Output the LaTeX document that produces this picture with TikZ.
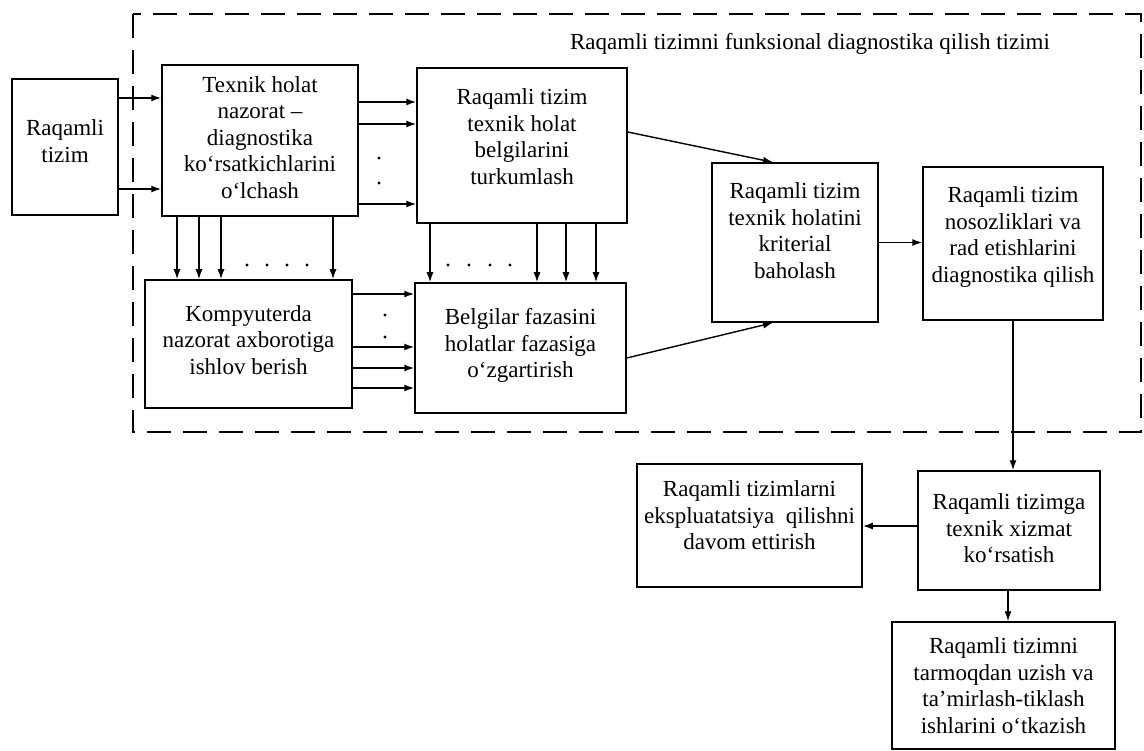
\documentclass[tikz,border=0pt]{standalone}
\usepackage{fontspec}
\setmainfont{Liberation Serif}
\usetikzlibrary{arrows.meta}
\newcommand\liftup[1]{\\[\dimexpr 2\dimexpr #1\relax-26.5pt\relax]\rule{0pt}{0pt}}
\tikzset{
  box/.style={draw, line width=1.5pt, align=center, inner sep=2pt,
    font=\fontsize{23}{26.5}\selectfont},
  arr/.style={line width=1.4pt, -{Latex[length=10pt,width=7pt]}},
  frame/.style={line width=1.5pt, dash pattern=on 24pt off 12pt},
  dot/.style={circle, fill, inner sep=0pt, minimum size=3.2pt},
  title/.style={font=\fontsize{23}{26}\selectfont, inner sep=0pt}
}
\begin{document}
\begin{tikzpicture}[x=1pt,y=-1pt]
\useasboundingbox (0,0) rectangle (1144,751);
% dashed frame
\draw[frame] (133,14) rectangle (1141,432);
\node[title] (ttl) at (810,44) {Raqamli tizimni funksional diagnostika qilish tizimi};
% boxes
\node[box, minimum width=106pt, minimum height=136pt] (sys) at (65,147) {Raqamli\\tizim\liftup{6pt}};
\node[box, minimum width=196pt, minimum height=151pt] (meas) at (260,140.5) {Texnik holat\\nazorat –\\diagnostika\\ko‘rsatkichlarini\\o‘lchash\liftup{3pt}};
\node[box, minimum width=207pt, minimum height=128pt] (comp) at (248.5,344) {Kompyuterda\\nazorat axborotiga\\ishlov berish\liftup{4pt}};
\node[box, minimum width=210pt, minimum height=155pt] (cls) at (522,145.5) {Raqamli tizim\\texnik holat\\belgilarini\\turkumlash\liftup{9pt}};
\node[box, minimum width=211pt, minimum height=130pt] (phase) at (520.5,348) {Belgilar fazasini\\holatlar fazasiga\\o‘zgartirish\liftup{5pt}};
\node[box, minimum width=166pt, minimum height=159pt] (crit) at (795,242.5) {Raqamli tizim\\texnik holatini\\kriterial\\baholash\liftup{12pt}};
\node[box, minimum width=180pt, minimum height=153pt] (diag) at (1013,243.5) {Raqamli tizim\\nosozliklari va\\rad etishlarini\\diagnostika qilish\liftup{9pt}};
\node[box, minimum width=182pt, minimum height=119pt] (serv) at (1009,530.5) {Raqamli tizimga\\texnik xizmat\\ko‘rsatish\liftup{2pt}};
\node[box, minimum width=225pt, minimum height=123pt] (cont) at (749.5,525.5) {Raqamli tizimlarni\\ekspluatatsiya\ \ qilishni\\davom ettirish\liftup{10pt}};
\node[box, minimum width=223pt, minimum height=127pt] (rep) at (1003.5,685.5) {Raqamli tizimni\\tarmoqdan uzish va\\ta’mirlash-tiklash\\ishlarini o‘tkazish};
% sys -> meas
\draw[arr] (sys.east |- 0,98) -- (meas.west |- 0,98);
\draw[arr] (sys.east |- 0,189) -- (meas.west |- 0,189);
% meas -> cls
\draw[arr] (meas.east |- 0,102) -- (cls.west |- 0,102);
\draw[arr] (meas.east |- 0,124) -- (cls.west |- 0,124);
\draw[arr] (meas.east |- 0,204) -- (cls.west |- 0,204);
\node[dot] (d1) at (379,158) {};
\node[dot] (d2) at (379,183) {};
% meas -> comp
\draw[arr] (meas.south -| 177,0) -- (comp.north -| 177,0);
\draw[arr] (meas.south -| 199,0) -- (comp.north -| 199,0);
\draw[arr] (meas.south -| 221,0) -- (comp.north -| 221,0);
\draw[arr] (meas.south -| 333,0) -- (comp.north -| 333,0);
\foreach \x [count=\i] in {247,267,287,307} \node[dot] (e\i) at (\x,265) {};
% cls -> phase
\draw[arr] (cls.south -| 430,0) -- (phase.north -| 430,0);
\draw[arr] (cls.south -| 537,0) -- (phase.north -| 537,0);
\draw[arr] (cls.south -| 566,0) -- (phase.north -| 566,0);
\draw[arr] (cls.south -| 596,0) -- (phase.north -| 596,0);
\foreach \x [count=\i] in {448,469,490,510} \node[dot] (f\i) at (\x,265) {};
% comp -> phase
\draw[arr] (comp.east |- 0,294) -- (phase.west |- 0,294);
\draw[arr] (comp.east |- 0,347) -- (phase.west |- 0,347);
\draw[arr] (comp.east |- 0,368) -- (phase.west |- 0,368);
\draw[arr] (comp.east |- 0,388) -- (phase.west |- 0,388);
\node[dot] (g1) at (385,315) {};
\node[dot] (g2) at (385,337) {};
% to crit
\draw[arr] (cls.east |- 0,132) -- (crit.north -| 773,0);
\draw[arr] (phase.east |- 0,358) -- (crit.south -| 773,0);
\draw[arr] (crit.east) -- (diag.west |- crit.east);
% lower part
\draw[arr] (diag.south) -- (serv.north -| diag.south);
\draw[arr] (serv.west |- 0,526) -- (cont.east |- 0,526);
\draw[arr] (serv.south -| 1008,0) -- (rep.north -| 1008,0);
\end{tikzpicture}
\end{document}
